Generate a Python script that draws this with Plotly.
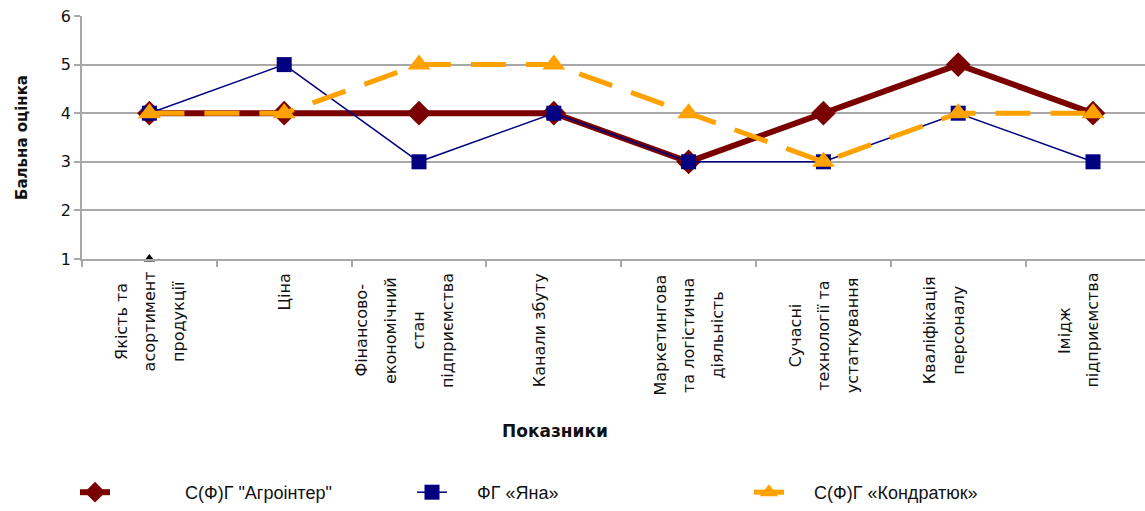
import plotly.graph_objects as go

# ---- data ----
categories = [
    "Якість та асортимент продукції",
    "Ціна",
    "Фінансово-економічний стан підприємства",
    "Канали збуту",
    "Маркетингова та логістична діяльність",
    "Сучасні технології та устаткування",
    "Кваліфікація персоналу",
    "Імідж підприємства",
]
# wrapped tick-label lines (as laid out in the original chart)
tick_lines = [
    ["Якість та", "асортимент", "продукції"],
    ["Ціна"],
    ["Фінансово-", "економічний", "стан", "підприємства", ""],
    ["Канали збуту", ""],
    ["Маркетингова", "та логістична", "діяльність"],
    ["Сучасні", "технології та", "устаткування"],
    ["Кваліфікація", "персоналу", ""],
    ["Імідж", "підприємства", ""],
]
series_names = ['С(Ф)Г "Агроінтер"', "ФГ «Яна»", "С(Ф)Г «Кондратюк»"]
agrointer = [4, 4, 4, 4, 3, 4, 5, 4]
yana = [4, 5, 3, 4, 3, 3, 4, 3]
kondratiuk = [4, 4, 5, 5, 4, 3, 4, 4]
stray_x = [categories[0]]
stray_y = [1]

y_ticks = [1, 2, 3, 4, 5, 6]
y_title = "Бальна оцінка"
x_title = "Показники"

# ---- style ----
DARKRED = "#7a0000"
NAVY = "#000080"
ORANGE = "#ffa200"
TXT = "#111111"
GRID = "#a8a8a8"
FONT = "DejaVu Sans"
NB = "\u00a0"
legend_pad = [NB * 14, NB * 5, NB * 5]

W, H = 1145, 511
ML, MT, MB = 82, 16, 250
plot_w = W - ML
cat_step = 134.8
x_max = -0.5 + plot_w / cat_step

fig = go.Figure()
fig.add_trace(go.Scatter(
    x=categories, y=agrointer, name=legend_pad[0] + series_names[0], mode="lines+markers",
    line=dict(color=DARKRED, width=6),
    marker=dict(symbol="diamond", size=19, color=DARKRED),
    cliponaxis=False,
))
fig.add_trace(go.Scatter(
    x=categories, y=yana, name=legend_pad[1] + series_names[1], mode="lines+markers",
    line=dict(color=NAVY, width=1.5),
    marker=dict(symbol="square", size=15, color=NAVY),
    cliponaxis=False,
))
fig.add_trace(go.Scatter(
    x=categories, y=kondratiuk, name=legend_pad[2] + series_names[2], mode="lines+markers",
    line=dict(color=ORANGE, width=5, dash="35px,20px"),
    marker=dict(symbol="triangle-up", size=20, color=ORANGE),
    cliponaxis=False,
))
fig.add_trace(go.Scatter(
    x=stray_x, y=stray_y, mode="markers", showlegend=False, hoverinfo="skip",
    marker=dict(symbol="triangle-up", size=10, color="black"),
    cliponaxis=False,
))

# category labels: vertical, each line centred on the block
FS = 16
CW = 9.6      # approx. char advance at this font size
PITCH = 28.5
TOP_GAP = 14
annotations = []
for cat, lines in zip(categories, tick_lines):
    n = len(lines)
    maxlen = max(len(s) for s in lines)
    centre_shift = -(TOP_GAP + maxlen * CW / 2)
    for i, s in enumerate(lines):
        if not s:
            continue
        annotations.append(dict(
            x=cat, xref="x", y=0, yref="paper", text=s, showarrow=False,
            textangle=-90, xanchor="center", yanchor="middle",
            xshift=(i - (n - 1) / 2) * PITCH, yshift=centre_shift,
            font=dict(family=FONT, size=FS, color=TXT),
        ))
annotations.append(dict(
    x=(555 - ML) / plot_w, xref="paper", y=0, yref="paper", text="<b>" + x_title + "</b>",
    showarrow=False, xanchor="center", yanchor="middle", yshift=-172,
    font=dict(family=FONT, size=17, color=TXT),
))

fig.update_layout(
    width=W, height=H,
    margin=dict(l=ML, r=0, t=MT, b=MB, pad=0),
    paper_bgcolor="white", plot_bgcolor="white",
    font=dict(family=FONT, color=TXT),
    showlegend=True,
    legend=dict(
        orientation="h", x=(75 - ML) / plot_w, xanchor="left",
        y=-(497 - (H - MB)) / (H - MB - MT), yanchor="middle",
        entrywidth=292, entrywidthmode="pixels",
        font=dict(family="Liberation Sans Narrow, Liberation Sans", size=18, color=TXT),
        bgcolor="rgba(0,0,0,0)", traceorder="normal",
    ),
    annotations=annotations,
    xaxis=dict(
        type="category", range=[-0.5, x_max], tickson="boundaries",
        showticklabels=False, showgrid=False, zeroline=False,
        showline=True, linecolor=GRID, linewidth=1.5,
        ticks="outside", ticklen=6, tickcolor=GRID, tickwidth=1.5,
    ),
    yaxis=dict(
        range=[1, 6], tickvals=y_ticks, showgrid=True, gridcolor=GRID, gridwidth=1.5,
        zeroline=False, showline=True, linecolor=GRID, linewidth=1.5,
        ticks="outside", ticklen=6, tickcolor=GRID, tickwidth=1.5,
        tickfont=dict(family=FONT, size=16, color=TXT),
        title=dict(text="<b>" + y_title + "</b>", standoff=30,
                   font=dict(family=FONT, size=15, color=TXT)),
    ),
)

fig.write_html("out.html")
